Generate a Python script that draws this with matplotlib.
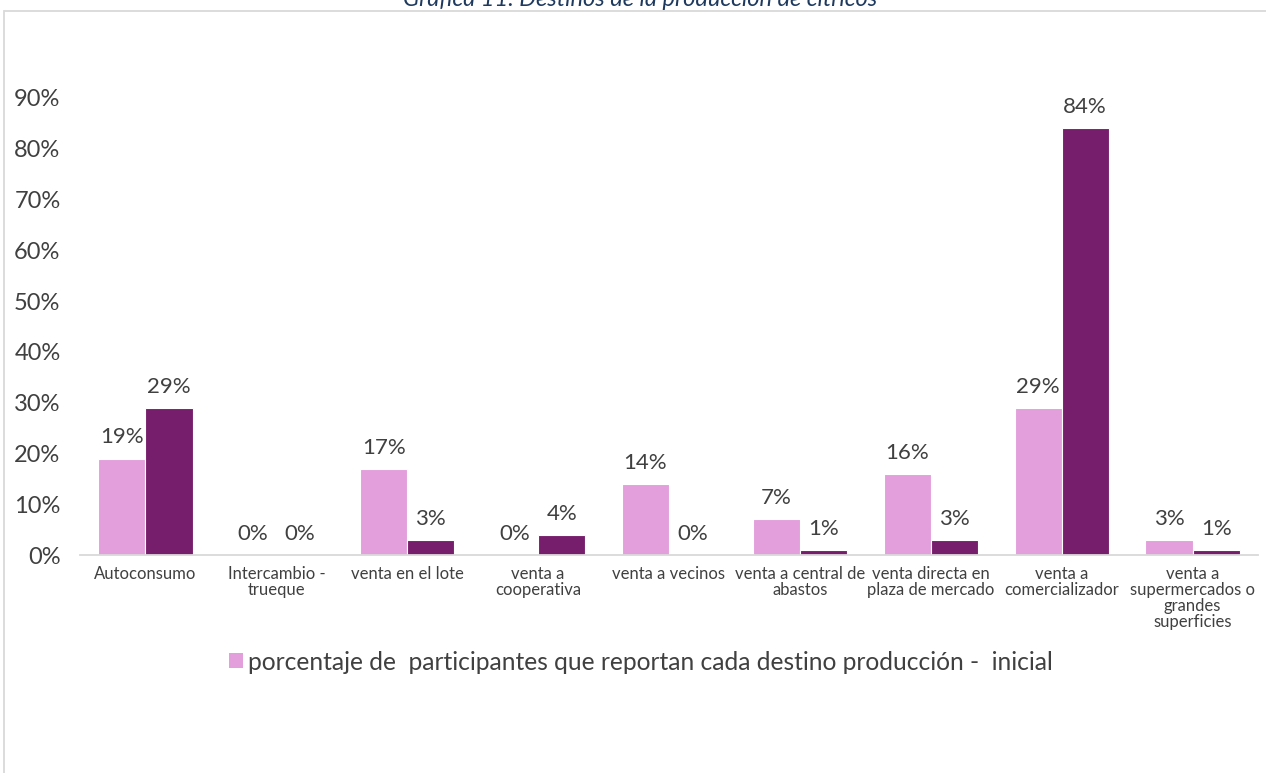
import matplotlib
matplotlib.use("Agg")
import matplotlib.pyplot as plt
from matplotlib.lines import Line2D
from matplotlib.patches import Patch
import numpy as np

plt.rcParams['font.family'] = ['Lato', 'DejaVu Sans']

categories = ["Autoconsumo", "Intercambio -\ntrueque", "venta en el lote", "venta a\ncooperativa",
              "venta a vecinos", "venta a central de\nabastos", "venta directa en\nplaza de mercado",
              "venta a\ncomercializador", "venta a\nsupermercados o\ngrandes\nsuperficies"]
inicial = [19, 0, 17, 0, 14, 7, 16, 29, 3]
final = [29, 0, 3, 4, 0, 1, 3, 84, 1]
yticks = [0, 10, 20, 30, 40, 50, 60, 70, 80, 90]
legend_label = "porcentaje de  participantes que reportan cada destino producción -  inicial"
title = "Gráfica 11. Destinos de la producción de cítricos"

c_pink = "#E39EDC"
c_purple = "#761E6B"
txt = "#404040"

W, H = 1266, 773
fig = plt.figure(figsize=(W/100, H/100), dpi=100)
ax = fig.add_axes([80/W, (H-555)/H, (1258-80)/W, (555-98)/H])

x = np.arange(len(categories))
bw = 0.36
b1 = ax.bar(x - bw/2, inicial, bw, color=c_pink, edgecolor="white", linewidth=0.8)
b2 = ax.bar(x + bw/2, final, bw, color=c_purple, edgecolor="white", linewidth=0.8)

for bars, vals in ((b1, inicial), (b2, final)):
    for r, v in zip(bars, vals):
        ax.annotate(f"{v}%", (r.get_x() + r.get_width()/2, v), xytext=(0, 8),
                    textcoords="offset points", ha="center", va="bottom",
                    fontsize=16, color=txt, clip_on=False)

ax.set_xlim(-0.5, len(categories) - 0.5)
ax.set_ylim(0, 90)
ax.set_yticks(yticks)
ax.set_yticklabels([f"{t}%" for t in yticks], fontsize=17, color=txt)
ax.set_xticks(x)
ax.set_xticklabels(categories, fontsize=12, color=txt, linespacing=1.0)
ax.tick_params(axis='both', length=0)
ax.tick_params(axis='y', pad=14)
ax.tick_params(axis='x', pad=8)
for s in ("top", "right", "left"):
    ax.spines[s].set_visible(False)
ax.spines["bottom"].set_color("#D9D9D9")
ax.spines["bottom"].set_linewidth(1.3)

fig.legend(handles=[Patch(facecolor=c_pink, edgecolor="none")], labels=[legend_label],
           loc="center", bbox_to_anchor=(641/W, (H-662)/H), frameon=False,
           fontsize=17.7, handlelength=0.55, handleheight=0.55, handletextpad=0.2,
           labelcolor=txt)

fig.text(640/W, (H-6)/H, title, ha="center", va="baseline", fontsize=17,
         style="italic", color="#1F3A5F")

fig.add_artist(Line2D([5/W, 1], [(H-11)/H, (H-11)/H], color="#D9D9D9", lw=1.3, transform=fig.transFigure))
fig.add_artist(Line2D([4/W, 4/W], [0, (H-11)/H], color="#D9D9D9", lw=1.3, transform=fig.transFigure))

fig.savefig("out.png", dpi=100, facecolor="white")
